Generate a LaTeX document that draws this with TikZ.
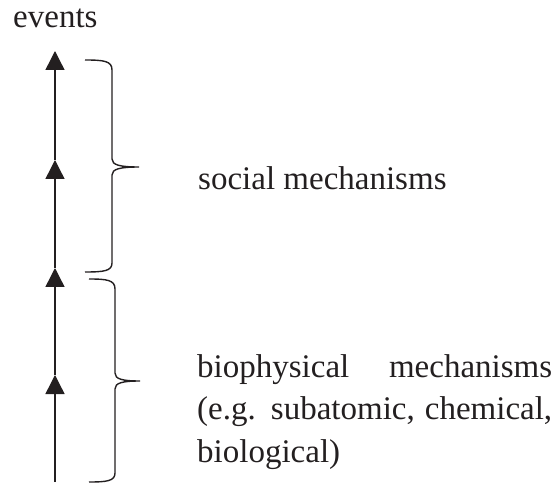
\documentclass[tikz,border=0pt]{standalone}
\usepackage{fontspec}
\setmainfont{Liberation Serif}
\usetikzlibrary{arrows.meta}
\definecolor{ink}{HTML}{231F20}
\begin{document}
\begin{tikzpicture}[x=1pt,y=-1pt,
  evarrow/.style={draw=ink,line width=1.4pt,-{Triangle[width=19pt,length=19pt]},fill=ink},
  bracestyle/.style={draw=ink,line width=1.4pt},
  lbl/.style={inner sep=0pt,text=ink,font=\fontsize{33}{43}\selectfont}]
\useasboundingbox (0,0) rectangle (555,484);
% event points on the time line
\coordinate (e0) at (55,482);
\coordinate (e1) at (55,375);
\coordinate (e2) at (55,268);
\coordinate (e3) at (55,160);
\coordinate (e4) at (55,51);
\draw[evarrow] (e0) -- (e1);
\draw[evarrow] (e1) -- (e2);
\draw[evarrow] (e2) -- (e3);
\draw[evarrow] (e3) -- (e4);
% braces
\draw[bracestyle] (85,60) .. controls (104,60) and (112,61) .. (112,70) -- (112,159)
  .. controls (112,165) and (120,167) .. (139,167)
  .. controls (120,167) and (112,169) .. (112,175) -- (112,263)
  .. controls (112,271) and (104,272) .. (85,272);
\draw[bracestyle] (89,279) .. controls (107,279) and (115,280) .. (115,289) -- (115,373)
  .. controls (115,379) and (122,381) .. (140,381)
  .. controls (122,381) and (115,383) .. (115,389) -- (115,473)
  .. controls (115,481) and (107,482) .. (89,482);
% labels
\node[lbl,anchor=base west] (ev) at (13,28) {events};
\node[lbl,anchor=base west] (soc) at (198,190) {social mechanisms};
\node[lbl,anchor=base west,text width=355pt,align=justify] (bio) at (197,377)
  {biophysical mechanisms\linebreak (e.g. subatomic, chemical,\linebreak biological)};
\end{tikzpicture}
\end{document}
